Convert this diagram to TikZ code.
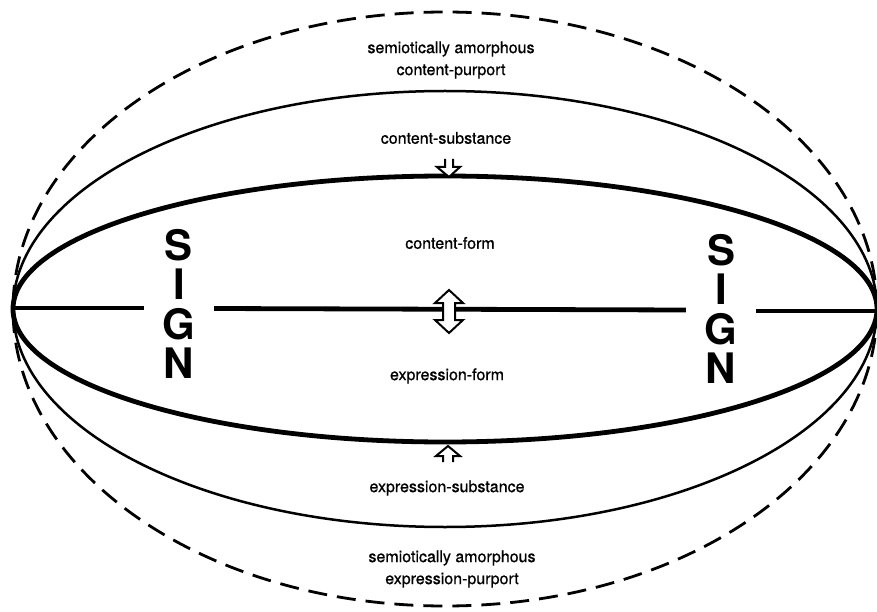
\documentclass[tikz,border=0pt]{standalone}
\usepackage{fontspec}
\setmainfont{TeX Gyre Heros}
\newfontfamily\lblfont[FakeBold=0.8]{TeX Gyre Heros}
\begin{document}
\begin{tikzpicture}[x=1pt,y=-1pt,
  lbl/.style={font=\lblfont\fontsize{16}{22}\selectfont, inner sep=0pt, align=center},
  signtxt/.style={font=\fontsize{42}{39.5}\selectfont\bfseries, align=center, inner ysep=2pt, inner xsep=0pt, minimum width=70pt},
  thickline/.style={line width=4.8pt},
  thinline/.style={line width=2.5pt},
  dashline/.style={line width=2.8pt, dash pattern=on 19pt off 10pt},
  hollow/.style={line width=2pt, line join=miter, fill=white}]
\useasboundingbox (0,0) rectangle (877,612);
\coordinate (C) at (445,309);
\coordinate (L) at (13,308);
\coordinate (R) at (877,311);
% ellipses
\draw[dashline] (C) ellipse [x radius=432pt, y radius=297pt];
\draw[thinline] (C) ellipse [x radius=432pt, y radius=218pt];
\draw[thickline] (C) ellipse [x radius=432pt, y radius=133pt];
% SIGN nodes
\node[signtxt] (signL) at (179,304) {S\\I\\G\\N};
\node[signtxt] (signR) at (721,309) {S\\I\\G\\N};
% horizontal line
\draw[thickline] (L) -- (L -| signL.west);
\draw[thickline] (signL.east |- 0,308.5) -- (signR.west |- 0,310);
\draw[thickline] (signR.east |- R) -- (R);
% labels
\node[lbl] (cp) at (451,60) {semiotically amorphous\\content-purport};
\node[lbl] (cs) at (446,138) {content-substance};
\node[lbl] (cf) at (450,243) {content-form};
\node[lbl] (ef) at (447,376) {expression-form};
\node[lbl] (es) at (447,488) {expression-substance};
\node[lbl] (ep) at (452,569) {semiotically amorphous\\expression-purport};
% arrows
\coordinate (ta) at (449,177);
\draw[hollow] ([shift={(-4,-18)}]ta) -- ++(0,8) -- ++(-8,0) -- (ta) -- ([shift={(11,-10)}]ta) -- ++(-7,0) -- ++(0,-8);
\coordinate (ma) at (449,311.5);
\draw[hollow] ([shift={(0,-21.5)}]ma) -- ++(-14,13) -- ++(8,0) -- ++(0,17) -- ++(-8,0) -- ([shift={(0,21.5)}]ma) -- ++(14,-13) -- ++(-8,0) -- ++(0,-17) -- ++(8,0) -- cycle;
\coordinate (ba) at (448,446);
\draw[hollow] ([shift={(-5,16)}]ba) -- ++(0,-6) -- ++(-7,0) -- (ba) -- ([shift={(12,10)}]ba) -- ++(-7,0) -- ++(0,6);
\end{tikzpicture}
\end{document}
